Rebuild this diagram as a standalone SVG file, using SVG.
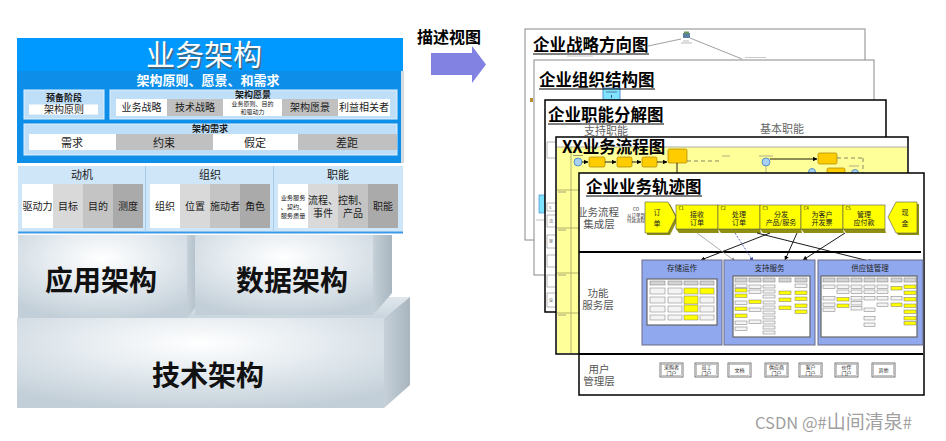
<svg xmlns="http://www.w3.org/2000/svg" width="946" height="441" viewBox="0 0 946 441">
<defs>
<style>
text{font-family:"Noto Sans CJK SC","Noto Sans","Liberation Sans",sans-serif}
.w{fill:#fff}
.gA{fill:#d9d9d9}
.gB{fill:#c4c4c4}
.gC{fill:#aaaaaa}
.gM{fill:#c0c0c0}
.lb{fill:#bfdff9;stroke:#e0f0fd;stroke-width:1}
.hd{font-size:9px;font-weight:bold;fill:#1a1a1a;text-anchor:middle}
.ct{font-size:10px;fill:#1a1a1a;text-anchor:middle}
.ct2{font-size:11px;fill:#1a1a1a;text-anchor:middle}
.tiny{font-size:6.2px;fill:#1a1a1a;text-anchor:middle}
.mt{font-size:11px;fill:#1a1a1a;text-anchor:middle}
.d3{font-size:28px;font-weight:bold;fill:#111;text-anchor:middle}
.pt{font-size:16.5px;font-weight:bold;fill:#000}
.ul{stroke:#000;stroke-width:1.2}
.pg{fill:#fff}
.lane{font-size:10.5px;fill:#555;text-anchor:middle}
.sb{fill:#f4f4f4;stroke:#777;stroke-width:0.5}
.hb{fill:#d4d4d4;stroke:#777;stroke-width:0.5}
.yb{fill:#ffff00;stroke:#777;stroke-width:0.5}
.pnl{fill:#8fa8ee;stroke:#6b6b85;stroke-width:1}
.inb{fill:#fff;stroke:#666;stroke-width:1.2}
.ptl{font-size:7.5px;fill:#222;text-anchor:middle}
.ob{fill:#ffcc00;stroke:#a88300;stroke-width:0.7}
.cir{fill:#a8d0f4;stroke:#3f7fc4;stroke-width:0.8}
.cx{font-size:7px;fill:#222;text-anchor:middle}
.cn{font-size:4.5px;fill:#222}
.ub{fill:#fff;stroke:#555;stroke-width:0.8}
.ub2{fill:none;stroke:#888;stroke-width:0.5}
.ut{font-size:5px;fill:#222;text-anchor:middle}
.ln{stroke:#000;stroke-width:0.9;fill:none}
.yel{fill:#ffff00;stroke:#555;stroke-width:0.6}
.ysh{fill:#8f8f10}
.lbx{fill:#fff;stroke:#888;stroke-width:0.6}
.mini{font-size:4px;fill:#555}
</style>
<radialGradient id="face" cx="0.5" cy="0.28" r="0.75">
<stop offset="0" stop-color="#ffffff"/>
<stop offset="0.5" stop-color="#e2e9ee"/>
<stop offset="1" stop-color="#c3cfd8"/>
</radialGradient>
<linearGradient id="side" x1="0" y1="0" x2="1" y2="0">
<stop offset="0" stop-color="#c5d0d8"/>
<stop offset="1" stop-color="#a8b5bf"/>
</linearGradient>
<linearGradient id="top" x1="0" y1="0" x2="0" y2="1">
<stop offset="0" stop-color="#dfe7ec"/>
<stop offset="1" stop-color="#c9d5dd"/>
</linearGradient>
<marker id="ah" viewBox="0 0 6 6" refX="5.5" refY="3" markerWidth="5" markerHeight="5" orient="auto">
<path d="M0,0 L6,3 L0,6 z" fill="#000"/>
</marker>
<marker id="ahb" viewBox="0 0 6 6" refX="5.5" refY="3" markerWidth="5" markerHeight="5" orient="auto">
<path d="M0,0 L6,3 L0,6 z" fill="#3344aa"/>
</marker>
<marker id="ahg" viewBox="0 0 6 6" refX="5.5" refY="3" markerWidth="5" markerHeight="5" orient="auto">
<path d="M0,0 L6,3 L0,6 z" fill="#888"/>
</marker>
<clipPath id="p5clip"><rect x="580" y="174" width="343" height="220"/></clipPath>
</defs>

<!-- 3D lower blocks -->
<g id="tech-arch">
<polygon points="17,318 384,318 410,297 43,297" fill="url(#top)"/>
<rect x="17" y="318" width="367" height="90" fill="url(#face)"/>
<polygon points="384,318 410,297 410,385 384,408" fill="url(#side)"/>
<text x="208" y="386" class="d3">技术架构</text>
</g>
<g id="app-arch">
<rect x="18" y="235" width="169" height="83" fill="url(#face)"/>
<polygon points="187,235 203,235 203,298 187,318" fill="url(#side)"/>
<text x="101" y="291" class="d3">应用架构</text>
</g>
<g id="data-arch">
<rect x="195" y="235" width="178" height="80" fill="url(#face)"/>
<polygon points="373,235 392,235 392,293 373,315" fill="url(#side)"/>
<text x="292" y="291" class="d3">数据架构</text>
</g>

<!-- Business architecture -->
<g id="business-arch">
<rect x="17" y="38" width="386" height="33" fill="#0099ff"/>
<rect x="17" y="71" width="384" height="92" fill="#0d8fe9"/>
<rect x="401" y="71" width="3" height="92" fill="#d5dbe0"/>
<text x="205.5" y="67.5" font-size="29" fill="#555" fill-opacity="0.7" text-anchor="middle">业务架构</text>
<text x="204" y="66" font-size="29" fill="#fff" text-anchor="middle">业务架构</text>
<text x="208" y="85" font-size="13" font-weight="bold" fill="#fff" text-anchor="middle">架构原则、愿景、和需求</text>
</g>
<g id="prelim">
<rect x="24" y="90" width="80" height="29" class="lb"/>
<text x="64" y="101" class="hd">预备阶段</text>
<rect x="29" y="104.5" width="69" height="10" class="w"/>
<text x="64" y="113" class="ct">架构原则</text>
</g>
<g id="vision">
<rect x="110" y="90" width="287" height="29" class="lb"/>
<text x="253" y="97.5" class="hd">架构愿景</text>
<rect x="116" y="99" width="51" height="17" class="w"/>
<rect x="167" y="99" width="56" height="17" class="gM"/>
<rect x="223" y="99" width="59" height="17" class="w"/>
<rect x="282" y="99" width="56" height="17" class="gM"/>
<rect x="338" y="99" width="52" height="17" class="w"/>
<text x="141.5" y="111" class="ct">业务战略</text>
<text x="195" y="111" class="ct">技术战略</text>
<text x="252.5" y="106" font-size="6" fill="#1a1a1a" text-anchor="middle">业务原则、目的</text>
<text x="252.5" y="114" font-size="6" fill="#1a1a1a" text-anchor="middle">和驱动力</text>
<text x="310" y="111" class="ct">架构愿景</text>
<text x="364" y="111" class="ct">利益相关者</text>
</g>
<g id="requirements">
<rect x="24" y="124" width="373" height="31" class="lb"/>
<text x="210" y="132" class="hd">架构需求</text>
<rect x="29" y="134" width="87" height="16" class="w"/>
<rect x="116" y="134" width="97" height="16" class="gM"/>
<rect x="213" y="134" width="85" height="16" class="w"/>
<rect x="298" y="134" width="99" height="16" class="gM"/>
<text x="72" y="146.5" class="ct2">需求</text>
<text x="164" y="146.5" class="ct2">约束</text>
<text x="255" y="146.5" class="ct2">假定</text>
<text x="347" y="146.5" class="ct2">差距</text>
</g>

<g id="motive-row">
<rect x="18" y="166" width="385" height="67" fill="#cfe6f8"/>
<line x1="18" y1="232.5" x2="403" y2="232.5" stroke="#3a9ae8" stroke-width="2"/>
<line x1="145.5" y1="166" x2="145.5" y2="232" stroke="#a5cbea" stroke-width="1"/>
<line x1="273.5" y1="166" x2="273.5" y2="232" stroke="#a5cbea" stroke-width="1"/>
</g>
<g id="motivation">
<text x="82" y="179" class="mt">动机</text>
<rect x="22" y="184" width="31" height="44" class="w"/>
<rect x="53" y="184" width="30" height="44" class="gA"/>
<rect x="83" y="184" width="30" height="44" class="gB"/>
<rect x="113" y="184" width="30" height="44" class="gC"/>
<text x="37.5" y="210" class="ct">驱动力</text>
<text x="68" y="210" class="ct">目标</text>
<text x="98" y="210" class="ct">目的</text>
<text x="128" y="210" class="ct">测度</text>
</g>
<g id="organization">
<text x="210" y="179" class="mt">组织</text>
<rect x="150" y="184" width="30" height="44" class="w"/>
<rect x="180" y="184" width="30" height="44" class="gA"/>
<rect x="210" y="184" width="30" height="44" class="gB"/>
<rect x="240" y="184" width="30" height="44" class="gC"/>
<text x="165" y="210" class="ct">组织</text>
<text x="195" y="210" class="ct">位置</text>
<text x="225" y="210" class="ct">施动者</text>
<text x="255" y="210" class="ct">角色</text>
</g>
<g id="function">
<text x="338" y="179" class="mt">职能</text>
<rect x="278" y="184" width="30" height="44" class="w"/>
<rect x="308" y="184" width="30" height="44" class="gA"/>
<rect x="338" y="184" width="30" height="44" class="gB"/>
<rect x="368" y="184" width="30" height="44" class="gC"/>
<text x="293" y="199.5" class="tiny">业务服务</text>
<text x="293" y="208.5" class="tiny">、契约、</text>
<text x="293" y="217.5" class="tiny">服务质量</text>
<text x="323" y="203.5" class="ct">流程、</text>
<text x="323" y="216.5" class="ct">事件</text>
<text x="353" y="203.5" class="ct">控制、</text>
<text x="353" y="216.5" class="ct">产品</text>
<text x="383" y="210" class="ct">职能</text>
</g>

<!-- Middle arrow -->
<g id="describe-views">
<text x="417" y="43" font-size="16" font-weight="bold" fill="#000">描述视图</text>
<polygon points="431,53 472,53 472,46 486,64.5 472,83 472,75 431,75" fill="#8282e2"/>
</g>

<!-- Page 1 -->
<g id="page-strategy">
<rect x="525" y="29" width="340" height="211" class="pg" stroke="#8a8a8a" stroke-width="1"/>
<line x1="648" y1="46" x2="681" y2="39" stroke="#888" stroke-width="0.8"/>
<line x1="690" y1="38" x2="742" y2="59" stroke="#888" stroke-width="0.8"/>
<rect x="683" y="33" width="7" height="5" fill="#5a7fa0"/>
<rect x="684" y="31.5" width="5" height="2" fill="#6a9a50"/>
<line x1="683" y1="41" x2="689" y2="41" stroke="#aaa" stroke-width="0.8"/>
<line x1="681" y1="43" x2="692" y2="43" stroke="#aaa" stroke-width="0.8"/>
<line x1="745" y1="57.5" x2="766" y2="57.5" stroke="#bbb" stroke-width="0.8"/>
<line x1="567" y1="56" x2="593" y2="56" stroke="#bbb" stroke-width="0.8"/>
<text x="533" y="51" class="pt">企业战略方向图</text>
<line x1="533" y1="54" x2="649" y2="54" class="ul"/>
</g>
<!-- Page 2 -->
<g id="page-org">
<rect x="534" y="60" width="340" height="215" class="pg" stroke="#8a8a8a" stroke-width="1"/>
<rect x="530" y="98" width="3" height="4" fill="#b89030"/>
<rect x="603" y="88" width="17" height="12" fill="#7fe3ff" stroke="#3a78cc" stroke-width="0.8"/>
<line x1="606" y1="92" x2="617" y2="92" stroke="#336" stroke-width="0.6"/>
<line x1="611.5" y1="95" x2="611.5" y2="98" stroke="#336" stroke-width="0.8"/>
<rect x="539" y="195" width="6" height="18" fill="#7fe3ff" stroke="#3a78cc" stroke-width="0.6"/>
<line x1="536" y1="220" x2="545" y2="220" stroke="#999" stroke-width="0.6"/>
<text x="539" y="86" class="pt">企业组织结构图</text>
<line x1="539" y1="89" x2="655" y2="89" class="ul"/>
</g>
<!-- Page 3 -->
<g id="page-function">
<rect x="545" y="100" width="341" height="212" class="pg" stroke="#000" stroke-width="1.5"/>
<text x="584" y="135" font-size="11" fill="#666">支持职能</text>
<text x="760" y="133" font-size="11" fill="#666">基本职能</text>
<rect x="547" y="142" width="10" height="16" class="lbx"/>
<rect x="547" y="203" width="10" height="8" class="lbx"/>
<rect x="547" y="215" width="10" height="12" class="lbx"/>
<rect x="547" y="235" width="10" height="13" class="lbx"/>
<rect x="547" y="255" width="10" height="12" class="lbx"/>
<rect x="547" y="275" width="10" height="12" class="lbx"/>
<rect x="547" y="293" width="10" height="14" class="lbx"/>
<text x="549" y="209" class="mini">S</text>
<text x="549" y="223" class="mini">流</text>
<text x="549" y="243" class="mini">审</text>
<text x="549" y="302" class="mini">设</text>
<text x="548" y="121" class="pt">企业职能分解图</text>
<line x1="548" y1="124" x2="664" y2="124" class="ul"/>
</g>
<!-- Page 4 -->
<g id="page-process">
<rect x="556" y="137" width="352" height="217" class="pg" stroke="#000" stroke-width="1.5"/>
<rect x="557" y="147" width="350" height="206" fill="#ffff99"/>
<line x1="557" y1="147" x2="907" y2="147" stroke="#999" stroke-width="0.8"/>
<line x1="571" y1="147" x2="571" y2="353" stroke="#a0a060" stroke-width="0.8"/>
<line x1="557" y1="190" x2="579" y2="190" stroke="#a0a060" stroke-width="0.8"/>
<line x1="557" y1="228" x2="579" y2="228" stroke="#a0a060" stroke-width="0.8"/>
<line x1="557" y1="273" x2="579" y2="273" stroke="#a0a060" stroke-width="0.8"/>
<line x1="557" y1="313" x2="579" y2="313" stroke="#a0a060" stroke-width="0.8"/>
<line x1="558" y1="192" x2="566" y2="192" stroke="#666" stroke-width="0.6"/>
<line x1="558" y1="230" x2="566" y2="230" stroke="#666" stroke-width="0.6"/>
<line x1="558" y1="275" x2="566" y2="275" stroke="#666" stroke-width="0.6"/>
<line x1="558" y1="315" x2="566" y2="315" stroke="#666" stroke-width="0.6"/>
<circle cx="578" cy="162" r="4" class="cir"/>
<line x1="573" y1="155.5" x2="583" y2="155.5" stroke="#555" stroke-width="0.6"/>
<line x1="582" y1="162" x2="588" y2="162" class="ln" marker-end="url(#ah)"/>
<rect x="589" y="157" width="16" height="10" rx="1.5" class="ob"/>
<line x1="605" y1="162" x2="616" y2="162" class="ln" marker-end="url(#ah)"/>
<rect x="617" y="157" width="15" height="10" rx="1.5" class="ob"/>
<line x1="632" y1="162" x2="641" y2="162" class="ln" marker-end="url(#ah)"/>
<rect x="642" y="157" width="15" height="10" rx="1.5" class="ob"/>
<line x1="657" y1="162" x2="667" y2="162" class="ln" marker-end="url(#ah)"/>
<rect x="668" y="149" width="19" height="14" rx="1.5" class="ob"/>
<line x1="677" y1="163" x2="677" y2="174" class="ln"/>
<line x1="687" y1="161" x2="720" y2="161" stroke="#555" stroke-width="0.7" stroke-dasharray="4,3"/>
<line x1="722" y1="156" x2="730" y2="156" stroke="#777" stroke-width="0.6"/>
<line x1="759" y1="156" x2="773" y2="156" stroke="#777" stroke-width="0.6"/>
<circle cx="766" cy="162" r="4" class="cir"/>
<line x1="770" y1="159" x2="817" y2="159" class="ln" marker-end="url(#ah)"/>
<rect x="818" y="153" width="19" height="11" rx="1.5" class="ob"/>
<line x1="766" y1="166" x2="766" y2="174" stroke="#888" stroke-width="0.6"/>
<circle cx="812" cy="172" r="3.5" class="cir"/>
<rect x="827" y="168" width="18" height="7" rx="1.5" class="ob"/>
<circle cx="855" cy="173" r="3.5" class="cir"/>
<line x1="837" y1="158" x2="863" y2="158" stroke="#555" stroke-width="0.7" stroke-dasharray="4,3"/>
<line x1="863" y1="158" x2="863" y2="174" stroke="#555" stroke-width="0.7" stroke-dasharray="4,3"/>
<line x1="849" y1="166" x2="859" y2="166" stroke="#777" stroke-width="0.6"/>
<text x="562" y="153" class="pt">XX业务流程图</text>
</g>
<!-- Page 5 -->
<g id="page-trace">
<rect x="579" y="173" width="345" height="222" class="pg" stroke="#000" stroke-width="1.5"/>
<text x="586" y="193" class="pt">企业业务轨迹图</text>
<line x1="586" y1="196" x2="702" y2="196" class="ul"/>
<g clip-path="url(#p5clip)">
<text x="598" y="215.5" class="lane">业务流程</text>
</g>
<text x="599" y="227.5" class="lane">集成层</text>
<text x="636" y="211" class="cn" text-anchor="middle">CO</text>
<text x="636" y="216.5" class="cn" text-anchor="middle">从订单到</text>
<text x="636" y="222" class="cn" text-anchor="middle">付款流程</text>
<text x="598" y="296.5" class="lane">功能</text>
<text x="598" y="309" class="lane">服务层</text>
<text x="599" y="372.5" class="lane">用户</text>
<text x="599" y="385" class="lane">管理层</text>
<line x1="579" y1="252" x2="921" y2="252" stroke="#000" stroke-width="1.8"/>
<line x1="579" y1="354" x2="923" y2="354" stroke="#000" stroke-width="1.8"/>
</g>
<g id="order-in">
<polygon points="647,204 670,204 678,219 670,235 647,235" class="ysh"/>
<polygon points="645,202 668,202 676,217 668,233 645,233" class="yel"/>
<text x="657" y="215" class="cx" font-size="8">订</text>
<text x="657" y="226" class="cx" font-size="8">单</text>
</g>
<g id="c1">
<polygon points="676,229 718,229 719,233 679,233" class="ysh"/>
<rect x="676" y="205" width="42" height="24" class="yel"/>
<text x="678.5" y="209.5" class="cn">C1</text>
<text x="697" y="217" class="cx">接收</text>
<text x="697" y="225" class="cx">订单</text>
</g>
<g id="c2">
<polygon points="718,229 760,229 761,233 721,233" class="ysh"/>
<rect x="718" y="205" width="42" height="24" class="yel"/>
<text x="720.5" y="209.5" class="cn">C2</text>
<text x="739" y="217" class="cx">处理</text>
<text x="739" y="225" class="cx">订单</text>
</g>
<g id="c3">
<polygon points="760,229 801,229 802,233 763,233" class="ysh"/>
<rect x="760" y="205" width="41" height="24" class="yel"/>
<text x="762.5" y="209.5" class="cn">C3</text>
<text x="781" y="217" class="cx">分发</text>
<text x="781" y="225" class="cx">产品/服务</text>
</g>
<g id="c4">
<polygon points="801,229 843,229 844,233 804,233" class="ysh"/>
<rect x="801" y="205" width="42" height="24" class="yel"/>
<text x="803.5" y="209.5" class="cn">C4</text>
<text x="822" y="217" class="cx">为客户</text>
<text x="822" y="225" class="cx">开发票</text>
</g>
<g id="c5">
<polygon points="843,229 885,229 886,233 846,233" class="ysh"/>
<rect x="843" y="205" width="42" height="24" class="yel"/>
<text x="845.5" y="209.5" class="cn">C5</text>
<text x="864" y="217" class="cx">管理</text>
<text x="864" y="225" class="cx">应付款</text>
</g>
<g id="cash-out">
<polygon points="919,204 898,204 890,219 898,235 919,235" class="ysh"/>
<polygon points="917,202 896,202 888,217 896,233 917,233" class="yel"/>
<text x="905" y="215" class="cx" font-size="8">现</text>
<text x="905" y="226" class="cx" font-size="8">金</text>
</g>

<g id="connectors">
<line x1="770" y1="233" x2="701" y2="260" class="ln" marker-end="url(#ah)"/>
<line x1="697" y1="233" x2="735" y2="261" stroke="#999" stroke-width="0.8" marker-end="url(#ahg)"/>
<line x1="735" y1="233" x2="753" y2="261" stroke="#3344aa" stroke-width="0.8" stroke-dasharray="2,1.5" marker-end="url(#ahb)"/>
<line x1="797" y1="233" x2="785" y2="260" class="ln" marker-end="url(#ah)"/>
<line x1="845" y1="233" x2="803" y2="260" class="ln" marker-end="url(#ah)"/>
<line x1="757" y1="233" x2="873" y2="262" class="ln" marker-end="url(#ah)"/>
</g>

<g id="panel-storage">
<rect x="642" y="260" width="80" height="85" class="pnl"/>
<text x="682" y="271" class="ptl">存储运作</text>
<rect x="647" y="279" width="70" height="46" class="inb"/>
<rect x="650" y="281" width="15" height="4" class="hb"/><rect x="668" y="281" width="14" height="4" class="hb"/><rect x="684" y="281" width="14" height="4" class="hb"/><rect x="700" y="281" width="14" height="4" class="hb"/>
<rect x="650" y="288" width="15" height="6" class="sb"/><rect x="668" y="288" width="14" height="6" class="sb"/><rect x="684" y="288" width="14" height="6" class="yb"/><rect x="700" y="288" width="14" height="6" class="yb"/>
<rect x="650" y="297" width="15" height="6" class="sb"/><rect x="668" y="297" width="14" height="6" class="sb"/><rect x="684" y="296" width="14" height="8" class="yb"/><rect x="700" y="297" width="14" height="6" class="sb"/>
<rect x="650" y="306" width="15" height="6" class="sb"/><rect x="668" y="306" width="14" height="6" class="sb"/><rect x="684" y="305" width="14" height="7" class="yb"/><rect x="700" y="306" width="14" height="6" class="sb"/>
<rect x="650" y="315" width="15" height="5" class="sb"/><rect x="668" y="315" width="14" height="5" class="sb"/><rect x="684" y="315" width="14" height="5" class="yb"/><rect x="700" y="315" width="14" height="5" class="sb"/>
</g>
<g id="panel-support">
<rect x="724" y="260" width="91" height="85" class="pnl"/>
<text x="769.5" y="271" class="ptl">支持服务</text>
<rect x="733" y="276" width="77" height="61" class="inb"/>
<rect x="735" y="278" width="12" height="4" class="hb"/><rect x="749" y="278" width="12" height="4" class="hb"/><rect x="763" y="278" width="12" height="4" class="hb"/><rect x="779" y="278" width="12" height="4" class="hb"/><rect x="795" y="278" width="12" height="4" class="hb"/>
<rect x="735" y="284" width="12" height="3.5" class="sb"/><rect x="735" y="288.5" width="12" height="3.5" class="yb"/><rect x="735" y="294" width="12" height="3.5" class="yb"/><rect x="735" y="301" width="12" height="3.5" class="sb"/><rect x="735" y="307" width="12" height="3.5" class="yb"/><rect x="735" y="314" width="12" height="3.5" class="yb"/><rect x="735" y="321" width="12" height="3.5" class="sb"/><rect x="735" y="327" width="12" height="3.5" class="sb"/>
<rect x="749" y="285" width="12" height="3.5" class="sb"/><rect x="749" y="290" width="12" height="3.5" class="sb"/><rect x="749" y="300" width="12" height="3.5" class="yb"/><rect x="749" y="308" width="12" height="3.5" class="sb"/><rect x="749" y="320" width="12" height="3.5" class="sb"/>
<rect x="763" y="285" width="12" height="3" class="sb"/><rect x="763" y="290" width="12" height="3" class="sb"/><rect x="763" y="295" width="12" height="3" class="sb"/><rect x="763" y="301" width="12" height="3" class="sb"/><rect x="763" y="306" width="12" height="3" class="sb"/><rect x="763" y="311" width="12" height="3" class="sb"/><rect x="763" y="316" width="12" height="3" class="sb"/><rect x="763" y="321" width="12" height="3" class="sb"/><rect x="763" y="326" width="12" height="3" class="sb"/><rect x="763" y="331" width="12" height="3" class="sb"/>
<rect x="779" y="291" width="12" height="3.5" class="yb"/><rect x="779" y="298" width="12" height="3.5" class="yb"/><rect x="779" y="306" width="12" height="3.5" class="yb"/>
<rect x="795" y="284" width="12" height="3.5" class="sb"/><rect x="795" y="291" width="12" height="3.5" class="yb"/><rect x="795" y="297" width="12" height="3.5" class="yb"/><rect x="795" y="304" width="12" height="3.5" class="yb"/><rect x="795" y="310" width="12" height="3.5" class="yb"/>
</g>
<g id="panel-supply">
<rect x="818" y="260" width="105" height="85" class="pnl"/>
<text x="870" y="271" class="ptl">供应链管理</text>
<rect x="821" y="276" width="96" height="61" class="inb"/>
<rect x="823" y="278" width="12" height="4" class="hb"/><rect x="837" y="278" width="12" height="4" class="hb"/><rect x="851" y="278" width="11" height="4" class="hb"/><rect x="864" y="278" width="11" height="4" class="hb"/><rect x="877" y="278" width="11" height="4" class="hb"/><rect x="891" y="278" width="11" height="4" class="hb"/><rect x="904" y="278" width="12" height="4" class="hb"/>
<rect x="823" y="285" width="12" height="3.5" class="sb"/><rect x="823" y="296.5" width="12" height="3.5" class="sb"/><rect x="823" y="303" width="12" height="3.5" class="sb"/><rect x="823" y="308" width="12" height="3.5" class="sb"/>
<rect x="837" y="285" width="12" height="3.5" class="sb"/><rect x="837" y="290" width="12" height="3.5" class="sb"/><rect x="837" y="297.5" width="12" height="3.5" class="yb"/><rect x="837" y="304" width="12" height="3.5" class="yb"/>
<rect x="851" y="285" width="11" height="3.5" class="sb"/><rect x="851" y="290" width="11" height="3.5" class="sb"/><rect x="851" y="296.5" width="11" height="3.5" class="sb"/><rect x="851" y="301.5" width="11" height="3.5" class="sb"/><rect x="851" y="306.5" width="11" height="3.5" class="sb"/>
<rect x="864" y="285" width="11" height="3.5" class="sb"/><rect x="864" y="290" width="11" height="3.5" class="sb"/><rect x="864" y="296.5" width="11" height="3.5" class="sb"/><rect x="864" y="308" width="11" height="3.5" class="sb"/><rect x="864" y="316.5" width="11" height="3.5" class="sb"/><rect x="864" y="323" width="11" height="3.5" class="sb"/>
<rect x="877" y="285" width="11" height="3.5" class="sb"/><rect x="877" y="290" width="11" height="3.5" class="sb"/><rect x="877" y="296.5" width="11" height="3.5" class="sb"/><rect x="877" y="303" width="11" height="3.5" class="sb"/>
<rect x="891" y="286.5" width="11" height="3.5" class="yb"/><rect x="891" y="296.5" width="11" height="3.5" class="sb"/><rect x="891" y="303" width="11" height="3.5" class="yb"/>
<rect x="904" y="285" width="12" height="3.5" class="yb"/><rect x="904" y="291" width="12" height="3.5" class="yb"/><rect x="904" y="297.5" width="12" height="3.5" class="yb"/><rect x="904" y="304" width="12" height="3.5" class="yb"/><rect x="904" y="310" width="12" height="3.5" class="yb"/><rect x="904" y="316.5" width="12" height="3.5" class="yb"/><rect x="904" y="321.5" width="12" height="3.5" class="yb"/>
</g>

<g id="user-portals">
<rect x="660" y="363" width="23" height="14" class="ub"/><rect x="661.5" y="364.5" width="20" height="11" class="ub2"/>
<text x="671.5" y="369" class="ut">采购者</text><text x="671.5" y="375" class="ut">门户</text>
<rect x="695" y="363" width="23" height="14" class="ub"/><rect x="696.5" y="364.5" width="20" height="11" class="ub2"/>
<text x="706.5" y="369" class="ut">员工</text><text x="706.5" y="375" class="ut">门户</text>
<rect x="728" y="363" width="23" height="14" class="ub"/><rect x="729.5" y="364.5" width="20" height="11" class="ub2"/>
<text x="739.5" y="372" class="ut">文档</text>
<rect x="765" y="363" width="23" height="14" class="ub"/><rect x="766.5" y="364.5" width="20" height="11" class="ub2"/>
<text x="776.5" y="369" class="ut">供应商</text><text x="776.5" y="375" class="ut">门户</text>
<rect x="799" y="363" width="23" height="14" class="ub"/><rect x="800.5" y="364.5" width="20" height="11" class="ub2"/>
<text x="810.5" y="369" class="ut">客户</text><text x="810.5" y="375" class="ut">门户</text>
<rect x="835" y="363" width="23" height="14" class="ub"/><rect x="836.5" y="364.5" width="20" height="11" class="ub2"/>
<text x="846.5" y="369" class="ut">伙伴</text><text x="846.5" y="375" class="ut">门户</text>
<rect x="872" y="363" width="23" height="14" class="ub"/><rect x="873.5" y="364.5" width="20" height="11" class="ub2"/>
<text x="883.5" y="372" class="ut">其他</text>
</g>

<text x="755" y="429" font-family="Liberation Sans, Noto Sans CJK SC, sans-serif" font-size="16.5" fill="#a0a0a0">CSDN @#<tspan font-family="Noto Sans CJK SC, sans-serif" font-size="19">山间清泉</tspan>#</text>
</svg>
